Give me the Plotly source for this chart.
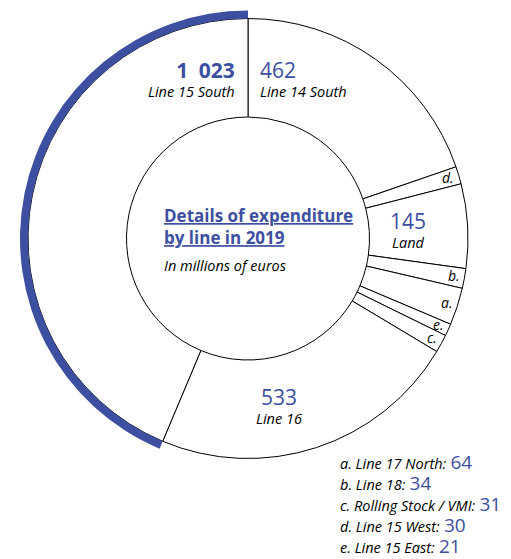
import math
import plotly.graph_objects as go

labels = ["Line 14 South", "Line 15 West", "Land", "Line 18", "Line 17 North",
          "Line 15 East", "Rolling Stock / VMI", "Line 16", "Line 15 South"]
values = [462, 30, 145, 34, 64, 21, 31, 533, 1023]
letters = ["", "d.", "", "b.", "a.", "e.", "c.", "", ""]
highlight = "Line 15 South"
legend_order = ["a.", "b.", "c.", "d.", "e."]

W, H = 511, 559
BLUE = "#3d4fa1"
FONT = "Open Sans"
CX, CY = 248, 238.5
R_OUT, R_IN = 220, 121.5
R_ARC = 228

def px(x):
    return x / W

def py(y):
    return 1 - y / H

fig = go.Figure()

fig.add_trace(go.Pie(
    labels=labels, values=values, sort=False, direction="clockwise", rotation=0,
    hole=R_IN / R_OUT, textinfo="none", hoverinfo="skip", showlegend=False,
    marker=dict(colors=["white"] * len(values), line=dict(color="black", width=1)),
    domain=dict(x=[px(CX - R_OUT), px(CX + R_OUT)], y=[py(CY + R_OUT), py(CY - R_OUT)]),
))
fig.add_trace(go.Pie(
    labels=labels, values=values, sort=False, direction="clockwise", rotation=0,
    hole=R_OUT / R_ARC, textinfo="none", hoverinfo="skip", showlegend=False,
    marker=dict(colors=[BLUE if l == highlight else "rgba(0,0,0,0)" for l in labels],
                line=dict(width=0)),
    domain=dict(x=[px(CX - R_ARC), px(CX + R_ARC)], y=[py(CY + R_ARC), py(CY - R_ARC)]),
))

total = sum(values)
cum = 0
angles = []
for v in values:
    a0 = cum / total * 360
    cum += v
    a1 = cum / total * 360
    angles.append((a0, a1))

ann = []

def add(text, x, y, size, color="black", xanchor="center", align="center", **kw):
    ann.append(dict(text=text, x=px(x), y=py(y), xref="paper", yref="paper",
                    xanchor=xanchor, yanchor="middle", align=align, showarrow=False,
                    font=dict(family=FONT, size=size, color=color, **kw)))

def fmt(v):
    return f"{v:,}".replace(",", "\u2002")

# letters on small slices
for (a0, a1), letter in zip(angles, letters):
    if letter:
        m = math.radians((a0 + a1) / 2)
        r = 209
        add(f"<i>{letter}</i>", CX + r * math.sin(m), CY - r * math.cos(m) - 1, 14)

vals = dict(zip(labels, values))

def block(label, x, y, xanchor, bold=False):
    num = fmt(vals[label])
    if bold:
        num = f"<b>{num}</b>"
    t = (f"<span style='font-size:21px;color:{BLUE}'>{num}</span><br>"
         f"<i>{label}</i>")
    add(t, x, y, 14.5, xanchor=xanchor, align=xanchor if xanchor != "center" else "center")

block("Line 15 South", CX - 11, 78, "right", bold=True)
block("Line 14 South", CX + 10, 78, "left")
block("Land", 408, 229, "center")
block("Line 16", 279, 405, "center")

# centre title
ann.append(dict(text="<b>Details of expenditure<br>by line in 2019</b>", x=px(162), y=py(226),
                xref="paper", yref="paper", xanchor="left", yanchor="middle", align="left",
                showarrow=False,
                font=dict(family=FONT, size=17, color=BLUE, lineposition="under")))
add("<i>In millions of euros</i>", 162, 265, 14.5, xanchor="left")

# legend of small slices (one block, 21px line pitch)
lookup = {l: (lab, v) for l, lab, v in zip(letters, labels, values) if l}
lines = []
for letter in legend_order:
    lab, v = lookup[letter]
    lines.append(f"<span style='font-size:14.5px'><i>{letter} {lab}:</i></span> "
                 f"<span style='font-size:19px;color:{BLUE}'>{v}</span>")
add("<br>".join(lines), 338, 504, 16.2, xanchor="left", align="left")

fig.update_layout(
    width=W, height=H, margin=dict(l=0, r=0, t=0, b=0),
    paper_bgcolor="white", plot_bgcolor="white",
    annotations=ann,
)
fig.write_html("out.html")
